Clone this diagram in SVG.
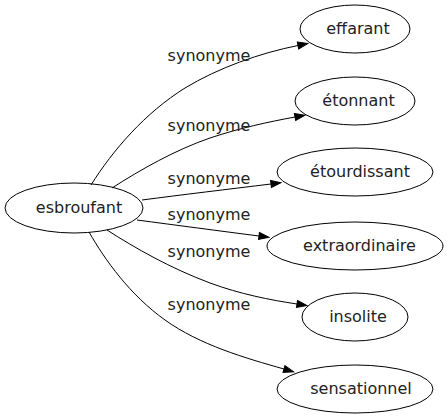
<svg xmlns="http://www.w3.org/2000/svg" width="447" height="419" viewBox="0 0 447 419">
<style>
.node ellipse{fill:none;stroke:#000;stroke-width:1}
.node text,.lbl{font-family:"DejaVu Sans",sans-serif;font-size:16px;fill:#222;text-anchor:middle}
.edge{fill:none;stroke:#000;stroke-width:1;marker-end:url(#arr)}
</style>
<defs>
<marker id="arr" markerUnits="userSpaceOnUse" markerWidth="10" markerHeight="7" refX="0" refY="3.5" orient="auto" overflow="visible">
<path d="M0,0 L10,3.5 L0,7 Z" fill="#000" stroke="#000" stroke-width="1"/>
</marker>
</defs>
<rect width="447" height="419" fill="#fff"/>
<g id="connectors">
<path class="edge" d="M91,185 C113,150 145,113 185,88 C218,68 260,53 298,45.5"/>
<path class="edge" d="M112,188 C140,170 175,150 210,138 C240,128 268,122 295,117"/>
<path class="edge" d="M142,200 C180,195 230,189 271,184"/>
<path class="edge" d="M137,220 C175,225 220,231 259,236"/>
<path class="edge" d="M107,230 C135,248 170,268 210,283 C240,294 270,300 297,304"/>
<path class="edge" d="M89,232 C105,260 130,295 165,320 C200,345 245,358 284,369"/>
<text class="lbl" x="209" y="61">synonyme</text>
<text class="lbl" x="209" y="131">synonyme</text>
<text class="lbl" x="209" y="184">synonyme</text>
<text class="lbl" x="209" y="220">synonyme</text>
<text class="lbl" x="209" y="257">synonyme</text>
<text class="lbl" x="209" y="310">synonyme</text>
</g>
<g id="esbroufant" class="node"><ellipse cx="74" cy="208" rx="69" ry="25"/><text x="79" y="213">esbroufant</text></g>
<g id="effarant" class="node"><ellipse cx="355" cy="29" rx="55" ry="24"/><text x="358" y="33.5">effarant</text></g>
<g id="etonnant" class="node"><ellipse cx="355" cy="101" rx="60" ry="24"/><text x="358.5" y="105.5">étonnant</text></g>
<g id="etourdissant" class="node"><ellipse cx="355" cy="172" rx="78" ry="24"/><text x="360" y="176.5">étourdissant</text></g>
<g id="extraordinaire" class="node"><ellipse cx="355" cy="246" rx="88" ry="24"/><text x="359.5" y="250.5">extraordinaire</text></g>
<g id="insolite" class="node"><ellipse cx="355" cy="317" rx="53" ry="24"/><text x="358" y="321.5">insolite</text></g>
<g id="sensationnel" class="node"><ellipse cx="355" cy="389" rx="78" ry="24"/><text x="361" y="393.5">sensationnel</text></g>
</svg>
